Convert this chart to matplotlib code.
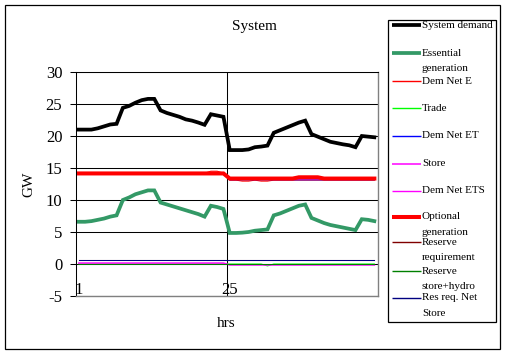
import matplotlib.pyplot as plt
from matplotlib.patches import Rectangle

plt.rcParams['font.family'] = ['Liberation Serif', 'DejaVu Serif']
plt.rcParams['axes.unicode_minus'] = False

# half-hourly data, 48 points
hours = list(range(1, 49))
system_demand = [21.0, 21.0, 21.0, 21.2, 21.5, 21.8, 21.9, 24.4, 24.7, 25.2, 25.6, 25.8,
                 25.8, 24.0, 23.6, 23.3, 23.0, 22.6, 22.4, 22.1, 21.75, 23.4, 23.2, 23.0,
                 17.8, 17.8, 17.8, 17.9, 18.25, 18.35, 18.5, 20.5, 20.9, 21.3, 21.7, 22.1,
                 22.4, 20.3, 19.9, 19.5, 19.1, 18.9, 18.7, 18.55, 18.25, 20.0, 19.9, 19.8]
essential = [6.6, 6.6, 6.7, 6.9, 7.1, 7.4, 7.6, 10.0, 10.4, 10.9, 11.2, 11.5,
             11.5, 9.6, 9.3, 9.0, 8.7, 8.4, 8.1, 7.8, 7.4, 9.1, 8.9, 8.6,
             4.85, 4.85, 4.9, 5.0, 5.2, 5.3, 5.4, 7.6, 7.9, 8.3, 8.7, 9.1,
             9.3, 7.2, 6.8, 6.4, 6.1, 5.9, 5.7, 5.5, 5.3, 7.0, 6.9, 6.7]
dem_net_e = [14.2] * 21 + [14.5, 14.5, 14.2] + \
            [13.1, 13.1, 12.95, 12.95, 13.1, 12.95, 12.95] + [13.1] * 17
trade = [0.0] * 30 + [-0.3] + [0.0] * 17
dem_net_et = [14.15] * 24 + [13.15] * 24
store = [0.15] * 24 + [-0.15] * 24
dem_net_ets = [14.0] * 24 + [13.3] * 24
optional = [14.15] * 24 + [13.35] * 11 + [13.55] * 4 + [13.35] * 9
reserve_req = [0.62] * 48
reserve_store_hydro = [0.0] * 48
res_req_net_store = [0.62] * 48

series = [
    ('System demand', system_demand, 'black', 2.7),
    ('Essential\ngeneration', essential, '#339966', 2.7),
    ('Dem Net E', dem_net_e, '#ff0000', 0.75),
    ('Trade', trade, '#00ff00', 0.75),
    ('Dem Net ET', dem_net_et, '#0000ff', 0.75),
    ('Store', store, '#ff00ff', 1.1),
    ('Dem Net ETS', dem_net_ets, '#ff00ff', 0.75),
    ('Optional\ngeneration', optional, '#ff0000', 2.9),
    ('Reserve\nrequirement', reserve_req, '#800000', 0.75),
    ('Reserve\nstore+hydro', reserve_store_hydro, '#008000', 0.75),
    ('Res req. Net\nStore', res_req_net_store, '#000080', 0.75),
]

W, H = 507, 355
fig = plt.figure(figsize=(W / 100, H / 100), dpi=100)
ax = fig.add_axes([75.7 / W, 1 - 296 / H, 301.8 / W, 224 / H])

for name, vals, col, lw in series:
    ax.plot(hours, vals, color=col, lw=lw, solid_joinstyle='miter')

ax.set_xlim(0.5, 48.5)
ax.set_ylim(-5, 30)
ax.set_yticks(range(-5, 31, 5))
ax.tick_params(axis='y', direction='out', length=4.3, width=0.75, labelsize=12, pad=5.3)
ax.set_xticks([1, 25], ['1', '25'])
ax.tick_params(axis='x', length=0, labelsize=12, pad=-10)
ax.set_xticks([24.5], minor=True)
ax.tick_params(axis='x', which='minor', length=0)
ax.set_axisbelow(True)
ax.grid(axis='y', color='black', lw=0.75)
ax.grid(axis='x', which='minor', color='black', lw=0.75)
for s in ['right', 'bottom']:
    ax.spines[s].set_color('#808080')
    ax.spines[s].set_linewidth(1)
ax.spines['top'].set_linewidth(0.75)
ax.spines['left'].set_linewidth(0.75)

ax.set_title('System', fontsize=11, x=0.591, pad=30)
ax.set_ylabel('GW', fontsize=11)
ax.yaxis.set_label_coords(-0.135, 0.5)
ax.set_xlabel('hrs', fontsize=11)
ax.xaxis.set_label_coords(0.5, -0.095)

# chart border and legend box in pixel coordinates
ov = fig.add_axes([0, 0, 1, 1], zorder=-1)
ov.set_xlim(0, W)
ov.set_ylim(H, 0)
ov.axis('off')
ov.add_patch(Rectangle((5, 5), 495, 344, fill=False, ec='black', lw=0.9))
ov.add_patch(Rectangle((388, 20), 108, 302, fill=False, ec='black', lw=0.9))

leg_y = [25.5, 53.3, 81, 108.3, 136, 164, 190.7, 216.7, 242.3, 271, 297.7]
for (name, vals, col, lw), y in zip(series, leg_y):
    hy = round(y - 1) + 0.5
    ov.plot([392, 421], [hy, hy], color=col, lw=max(lw, 1.0), solid_capstyle='butt')
    for k, line in enumerate(name.split('\n')):
        ov.text(422, y + k * 15.5, line, fontsize=8, va='center', ha='left')

fig.savefig('out.png', dpi=100)
